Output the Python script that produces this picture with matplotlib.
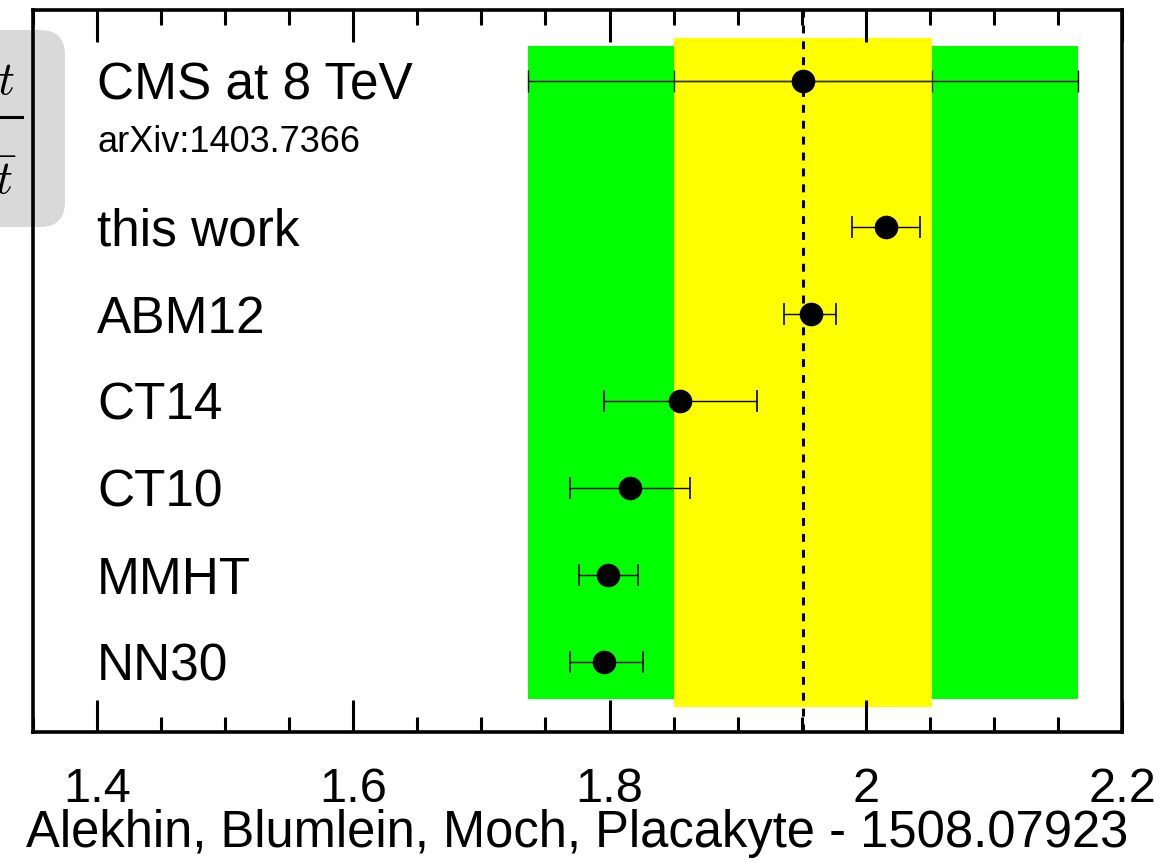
import matplotlib
matplotlib.use("Agg")
import matplotlib.pyplot as plt
from matplotlib.patches import FancyBboxPatch, Rectangle
from matplotlib.lines import Line2D
from matplotlib.transforms import IdentityTransform

# ---------------- data ----------------
labels = ["NN30", "MMHT", "CT10", "CT14", "ABM12", "this work"]
values = [1.796, 1.799, 1.816, 1.855, 1.957, 2.016]
err_lo = [0.027, 0.023, 0.047, 0.059, 0.021, 0.027]
err_hi = [0.030, 0.023, 0.047, 0.060, 0.020, 0.026]

cms_label = "CMS at 8 TeV"
cms_ref = "arXiv:1403.7366"
cms_value = 1.951
cms_err_inner = 0.101
cms_err_outer = 0.215

xticks = [1.4, 1.6, 1.8, 2.0, 2.2]
xticklabels = ["1.4", "1.6", "1.8", "2", "2.2"]
xlabel = "Alekhin, Blumlein, Moch, Placakyte - 1508.07923"

# ---------------- style ----------------
plt.rcParams['font.family'] = ['Liberation Sans', 'DejaVu Sans']
plt.rcParams['mathtext.fontset'] = 'cm'

W, H = 1159, 865
fig = plt.figure(figsize=(W / 100, H / 100), dpi=100)
fig.patch.set_facecolor('white')
ax = fig.add_axes([33 / W, (H - 732) / H, (1122 - 33) / W, (732 - 10) / H])
ax.patch.set_alpha(0)

ypos = list(range(len(labels)))
cms_y = 6.68

# bands
ax.add_patch(Rectangle((cms_value - cms_err_outer, -0.425), 2 * cms_err_outer, 7.08 + 0.425,
                       facecolor='#00ff00', edgecolor='none', zorder=0))
ax.add_patch(Rectangle((cms_value - cms_err_inner, -0.517), 2 * cms_err_inner, 7.17 + 0.517,
                       facecolor='#ffff00', edgecolor='none', zorder=1))
ax.axvline(cms_value, color='black', lw=2.2, ls=(0, (2.6, 2.6)), zorder=2)

# CMS point with inner and outer caps
ax.errorbar([cms_value], [cms_y], xerr=[[cms_err_outer], [cms_err_outer]], fmt='none',
            ecolor='black', elinewidth=1.0, capsize=8, capthick=1.0, zorder=3)
ax.errorbar([cms_value], [cms_y], xerr=[[cms_err_inner], [cms_err_inner]], fmt='none',
            ecolor='#333333', elinewidth=1.0, capsize=8, capthick=1.0, zorder=3)
ax.plot([cms_value], [cms_y], 'o', color='black', ms=16, zorder=4)

ax.errorbar(values, ypos, xerr=[err_lo, err_hi], fmt='o', color='black', ms=16,
            ecolor='black', elinewidth=1.0, capsize=8, capthick=1.2, zorder=4)

# labels
for y, lab in zip(ypos, labels):
    ax.text(1.4, y, lab, fontsize=37, ha='left', va='center_baseline')
ax.text(1.4, cms_y, cms_label, fontsize=37, ha='left', va='center_baseline')
ax.text(1.4, cms_y - 0.66, cms_ref, fontsize=26, ha='left', va='center_baseline')

ax.set_xlim(1.35, 2.2)
ax.set_ylim(-0.805, 7.494)
ax.set_yticks([])
ax.set_xticks(xticks)
ax.set_xticklabels(xticklabels, fontsize=35)
ax.set_xticks([1.35 + 0.05 * i for i in range(18)], minor=True)
ax.tick_params(axis='x', which='major', direction='in', length=23, width=2.2,
               top=True, bottom=True, pad=25)
ax.tick_params(axis='x', which='minor', direction='in', length=11, width=2.2,
               top=True, bottom=True)
for s in ax.spines.values():
    s.set_linewidth(2.6)
ax.set_xlabel(xlabel, fontsize=36.5, labelpad=-2)

# cropped grey label box at the left
ident = IdentityTransform()
box = FancyBboxPatch((-100, H - 227), 165, 197, boxstyle="round,pad=0,rounding_size=25",
                     facecolor='#d9d9d9', edgecolor='none', transform=ident, zorder=-1)
fig.patches.append(box)
fig.text(6 / W, (H - 82) / H, r'$t$', fontsize=34, ha='center', va='center')
fig.add_artist(Line2D([-20 / W, 22 / W], [(H - 117) / H] * 2, color='black', lw=2.2,
                      transform=fig.transFigure))
fig.text(6 / W, (H - 182) / H, r'$\bar{t}$', fontsize=34, ha='center', va='center')

fig.savefig("out.png", dpi=100)
